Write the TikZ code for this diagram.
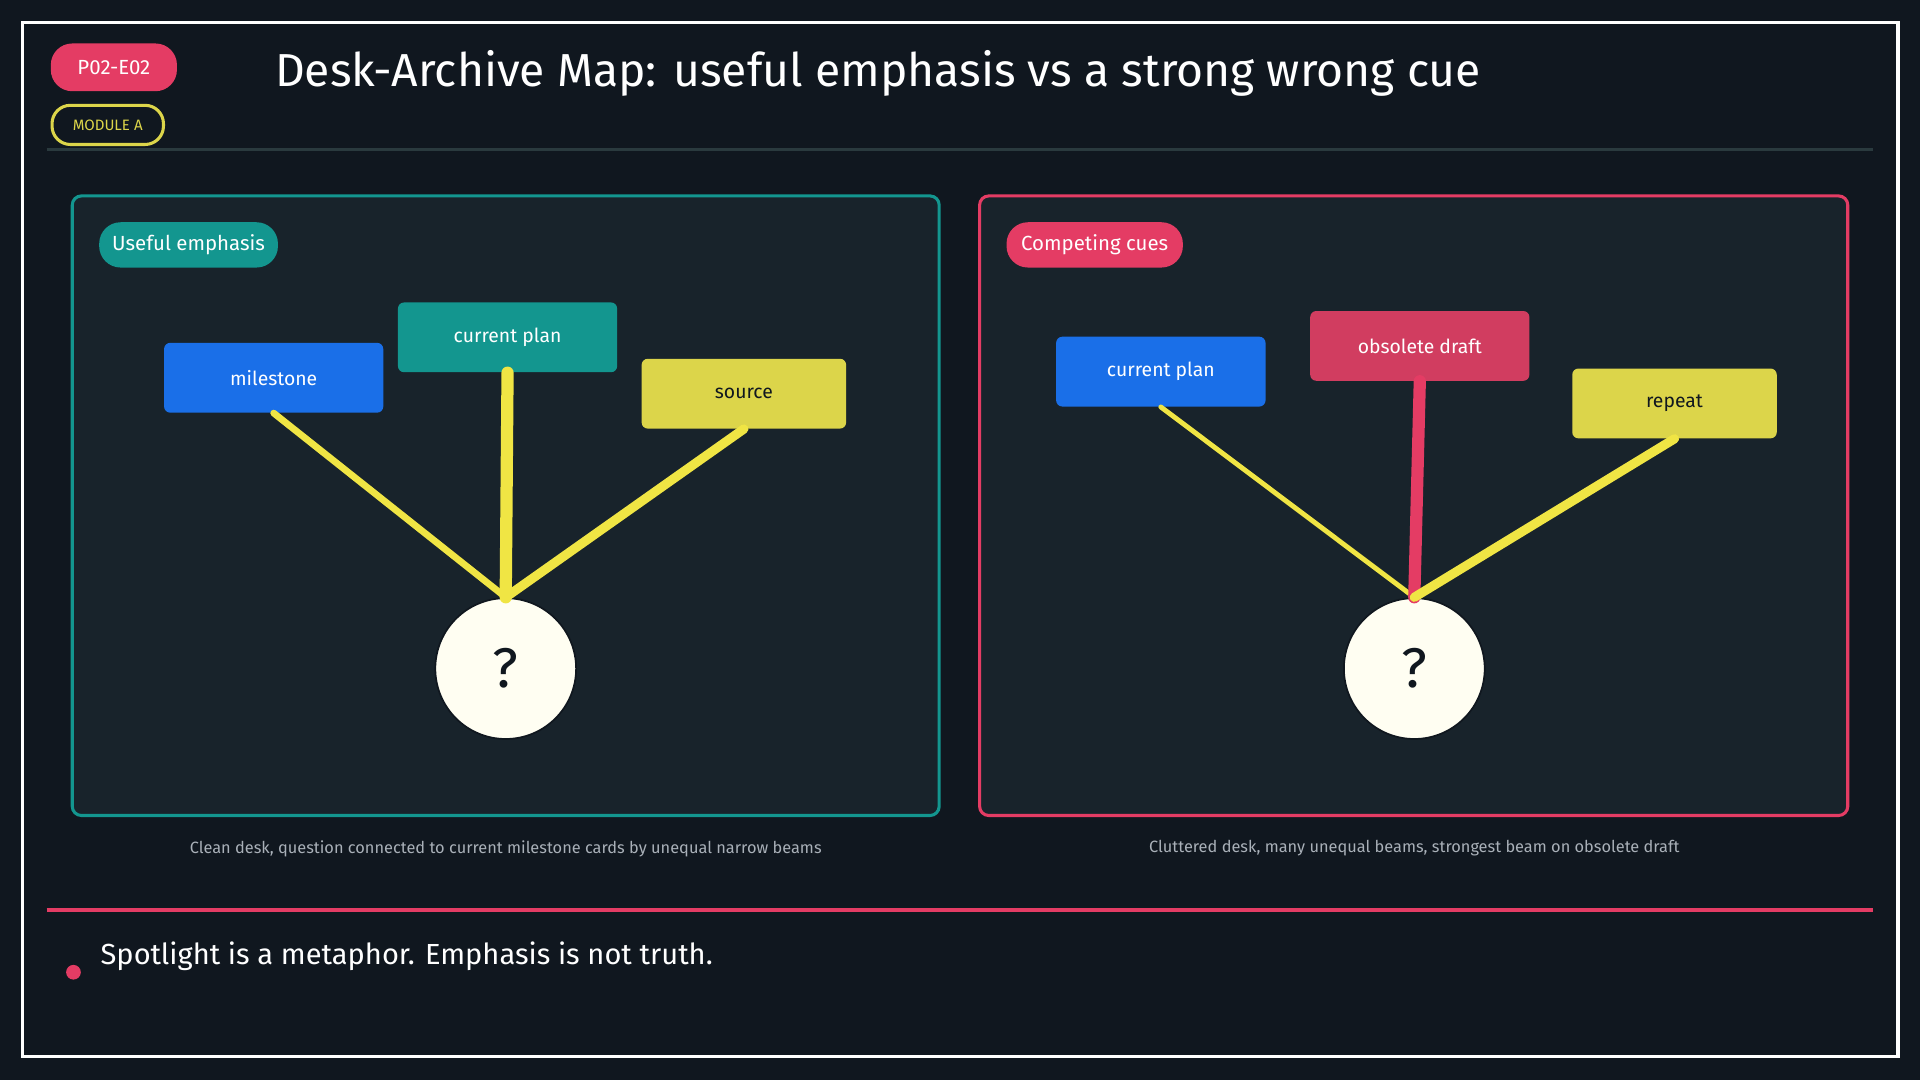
\documentclass[tikz,border=0pt]{standalone}
\usepackage{fontspec}
\setmainfont{Fira Sans}
\begin{document}
\definecolor{bg}{HTML}{10171F}
\definecolor{panel}{HTML}{18232B}
\definecolor{teal}{HTML}{13968F}
\definecolor{pink}{HTML}{E43C64}
\definecolor{rose}{HTML}{D13D60}
\definecolor{blu}{HTML}{1A6FE8}
\definecolor{yel}{HTML}{DCD54A}
\definecolor{beam}{HTML}{F0E544}
\definecolor{cap}{HTML}{A9B0B8}
\definecolor{rule}{HTML}{2A3A3E}
\begin{tikzpicture}[x=0.2mm, y=-0.2mm,
    card/.style={rectangle, rounded corners=1mm, text=white, font=\fontsize{9}{11}\selectfont, inner sep=0pt},
    pill/.style={rectangle, rounded corners=3.5mm, text=white, font=\fontsize{9.5}{12}\selectfont, inner sep=0pt, minimum height=7.4mm},
    qmark/.style={circle, fill=white!95!yellow, draw=bg, thick, minimum size=23mm, font=\fontsize{26}{28}\selectfont, text=bg},
    ray/.style={line cap=round, draw=beam},
    caption/.style={text=cap, font=\fontsize{7.6}{10}\selectfont},
]
% Hintergrund und Rahmen
\fill[bg] (0,0) rectangle (1568,882);
\useasboundingbox (0,0) rectangle (1568,882);
\draw[white, line width=0.5mm] (18,18) rectangle (1550,863);

% Kopfzeile
\node[pill, fill=pink, minimum width=20.6mm, minimum height=7.8mm] (tag) at (93,55) {P02-E02};
\node[rectangle, rounded corners=3mm, draw=yel, line width=0.5mm, text=yel, minimum width=18.2mm, minimum height=6.4mm, inner sep=0pt, font=\fontsize{7}{8}\selectfont] (mod) at (88,102) {MODULE A};
\node[text=white, font=\fontsize{21.5}{26}\selectfont] (title) at (717,60) {Desk-Archive Map: useful emphasis vs a strong wrong cue};
\draw[rule, line width=0.5mm] (38,122) -- (1530,122);

% Linkes Feld
\draw[teal, fill=panel, line width=0.5mm, rounded corners=1.5mm] (59,160) rectangle (767,666);
\node[pill, fill=teal, minimum width=29.2mm] (lab1) at (154,200) {Useful emphasis};
\node[card, fill=blu, minimum width=35.8mm, minimum height=11.4mm] (ms1) at (223.5,308.5) {milestone};
\node[card, fill=teal, minimum width=35.8mm, minimum height=11.4mm] (cp1) at (414.5,275.5) {current plan};
\node[card, fill=yel, text=bg, minimum width=33.4mm, minimum height=11.4mm] (src1) at (607.5,321.5) {source};
\node[qmark] (q1) at (413,546) {?};
\draw[ray, line width=1.1mm] (ms1.south) -- (q1.north);
\draw[ray, line width=2mm] (cp1.south) -- (q1.north);
\draw[ray, line width=1.5mm] (src1.south) -- (q1.north);
\node[caption] (cap1) at (413,693) {Clean desk, question connected to current milestone cards by unequal narrow beams};

% Rechtes Feld
\draw[pink, fill=panel, line width=0.5mm, rounded corners=1.5mm] (800,160) rectangle (1509,666);
\node[pill, fill=pink, minimum width=28.8mm] (lab2) at (894,200) {Competing cues};
\node[card, fill=blu, minimum width=34.2mm, minimum height=11.4mm] (cp2) at (948,303.5) {current plan};
\node[card, fill=rose, minimum width=35.8mm, minimum height=11.4mm] (od2) at (1159.5,282.5) {obsolete draft};
\node[card, fill=yel, text=bg, minimum width=33.4mm, minimum height=11.4mm] (rp2) at (1367.5,329.5) {repeat};
\node[qmark] (q2) at (1155,546) {?};
\draw[ray, line width=0.8mm] (cp2.south) -- (q2.north);
\draw[ray, draw=pink, line width=2mm] (od2.south) -- (q2.north);
\draw[ray, line width=1.5mm] (rp2.south) -- (q2.north);
\node[caption] (cap2) at (1155,693) {Cluttered desk, many unequal beams, strongest beam on obsolete draft};

% Fusszeile
\draw[pink, line width=0.6mm] (38,743) -- (1530,743);
\fill[pink] (60,794) circle (6);
\node[anchor=west, text=white, font=\fontsize{13.5}{16}\selectfont] (note) at (76,781) {Spotlight is a metaphor. Emphasis is not truth.};
\end{tikzpicture}
\end{document}
